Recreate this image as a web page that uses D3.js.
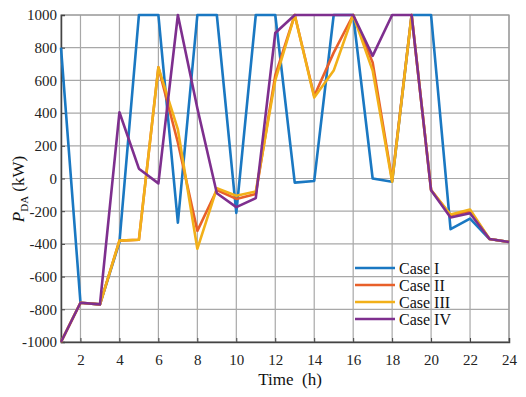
<!DOCTYPE html>
<html>
<head>
<meta charset="utf-8">
<script src="https://cdn.jsdelivr.net/npm/d3@7"></script>
<style>
  body { margin: 0; background: #fff; }
  svg text { font-family: "Liberation Serif", "Times New Roman", serif; }
</style>
</head>
<body>
<div id="chart"></div>
<script>
// hours and values
var hours = d3.range(1, 25);
var caseI = [800, -760, -770, -390, 1000, 1000, -270, 1000, 1000, -210, 1000, 1000,
	-25, -15, 1000, 1000, 0, -20, 1000, 1000, -310, -245, -370, -388];
var caseII = [-1000, -760, -770, -380, -375, 680, 220, -320, -70, -125, -95, 630,
	1000, 505, 770, 1000, 710, -10, 1000, -70, -225, -200, -370, -388];
var caseIII = [-1000, -760, -770, -380, -375, 680, 300, -430, -60, -105, -80, 600,
	1000, 495, 660, 1000, 660, -20, 1000, -70, -220, -190, -370, -388];
var caseIV = [-1000, -760, -770, 405, 60, -30, 1000, 430, -90, -175, -120, 890,
	1000, 1000, 1000, 1000, 750, 1000, 1000, -72, -238, -212, -370, -388];
var seriesNames = ["Case I", "Case II", "Case III", "Case IV"];
var seriesColors = ["#1a78c2", "#e8602a", "#f2b019", "#7e2f8e"];
var xTicks = [2, 4, 6, 8, 10, 12, 14, 16, 18, 20, 22, 24];
var yTicks = [-1000, -800, -600, -400, -200, 0, 200, 400, 600, 800, 1000];

var width = 526, height = 397;
var margin = { top: 15, right: 17, bottom: 55, left: 61 };
var serif = "'Liberation Serif', 'Times New Roman', serif";

var svg = d3.select("#chart").append("svg")
	.attr("width", width)
	.attr("height", height)
	.attr("font-family", serif);

var x = d3.scaleLinear().domain([1, 24]).range([margin.left, width - margin.right]);
var y = d3.scaleLinear().domain([-1000, 1000]).range([height - margin.bottom, margin.top]);

// grid
svg.append("g")
	.selectAll("line")
	.data(xTicks)
	.enter()
	.append("line")
	.attr("x1", (d) => x(d))
	.attr("x2", (d) => x(d))
	.attr("y1", y(-1000))
	.attr("y2", y(1000))
	.attr("stroke", "#a8a8a8")
	.attr("stroke-width", 1.2);
svg.append("g")
	.selectAll("line")
	.data(yTicks)
	.enter()
	.append("line")
	.attr("x1", x(1))
	.attr("x2", x(24))
	.attr("y1", (d) => y(d))
	.attr("y2", (d) => y(d))
	.attr("stroke", "#a8a8a8")
	.attr("stroke-width", 1.2);

// box
svg.append("rect")
	.attr("x", x(1))
	.attr("y", y(1000))
	.attr("width", x(24) - x(1))
	.attr("height", y(-1000) - y(1000))
	.attr("fill", "none")
	.attr("stroke", "#9a9a9a")
	.attr("stroke-width", 1.2);

// axes
var xAxis = svg.append("g")
	.attr("transform", `translate(0,${y(-1000)})`)
	.call(d3.axisBottom(x).tickValues(xTicks).tickSize(-4).tickPadding(12));
xAxis.attr("font-family", serif).attr("font-size", 15);
xAxis.select(".domain").attr("stroke", "#444").attr("stroke-width", 1.5);
xAxis.selectAll(".tick line").attr("stroke", "#444");
xAxis.selectAll("text").attr("fill", "#222");

var yAxis = svg.append("g")
	.attr("transform", `translate(${x(1)},0)`)
	.call(d3.axisLeft(y).tickValues(yTicks).tickSize(-4).tickPadding(4).tickFormat((d) => String(d)));
yAxis.attr("font-family", serif).attr("font-size", 15);
yAxis.select(".domain").attr("stroke", "#444").attr("stroke-width", 1.5);
yAxis.selectAll(".tick line").attr("stroke", "#444");
yAxis.selectAll("text").attr("fill", "#222");

// axis labels
svg.append("text")
	.attr("x", 290)
	.attr("y", 385)
	.attr("text-anchor", "middle")
	.attr("font-size", "17px")
	.attr("fill", "#111")
	.style("white-space", "pre")
	.text("Time  (h)");

var ylab = svg.append("text")
	.attr("transform", "rotate(-90)")
	.attr("x", -189)
	.attr("y", 24)
	.attr("text-anchor", "middle")
	.attr("font-size", "17px")
	.attr("fill", "#111")
	.style("white-space", "pre");
ylab.append("tspan").attr("font-style", "italic").text("P");
ylab.append("tspan").attr("font-size", "11px").attr("dy", 4).text("DA");
ylab.append("tspan").attr("dy", -4).text(" (kW)");

// lines
var allSeries = [caseI, caseII, caseIII, caseIV];
var line = d3.line()
	.x((d, i) => x(hours[i]))
	.y((d) => y(d));
allSeries.forEach((s, i) => {
	svg.append("path")
		.datum(s)
		.attr("d", line)
		.attr("fill", "none")
		.attr("stroke", seriesColors[i])
		.attr("stroke-width", 2.6)
		.attr("stroke-linejoin", "round");
});

// legend
var legend = svg.append("g").attr("transform", "translate(355,268)");
seriesNames.forEach((name, i) => {
	var row = legend.append("g").attr("transform", `translate(0, ${i * 17})`);
	row.append("line")
		.attr("x1", 0)
		.attr("x2", 40)
		.attr("y1", 0)
		.attr("y2", 0)
		.attr("stroke", seriesColors[i])
		.attr("stroke-width", 2.6);
	row.append("text")
		.attr("x", 44)
		.attr("y", 0)
		.attr("dy", "0.35em")
		.attr("font-size", "16px")
		.attr("fill", "#111")
		.text(name);
});
</script>
</body>
</html>
